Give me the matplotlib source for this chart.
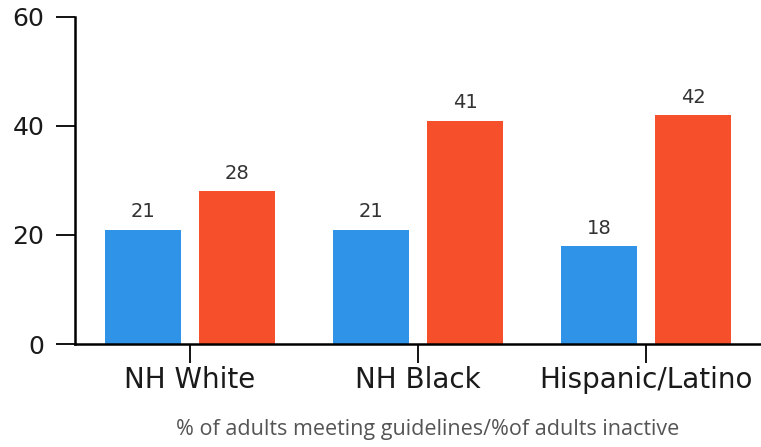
import matplotlib
matplotlib.use("Agg")
import matplotlib.pyplot as plt
import numpy as np

categories = ["NH White", "NH Black", "Hispanic/Latino"]
meeting = [21, 21, 18]
inactive = [28, 41, 42]
yticks = [0, 20, 40, 60]
xlabel = "% of adults meeting guidelines/%of adults inactive"

W, H = 761, 447
fig = plt.figure(figsize=(W/100, H/100), dpi=100)
ax = fig.add_axes([75/W, (H-344)/H, (760-75)/W, (344-17)/H])

x = np.arange(len(categories))
bw = 0.333
off = 0.206
b1 = ax.bar(x - off, meeting, bw, color="#2F93E8")
b2 = ax.bar(x + off, inactive, bw, color="#F64F2B")
for bars in (b1, b2):
    for r in bars:
        ax.annotate(f"{r.get_height():g}", (r.get_x() + r.get_width()/2, r.get_height()),
                    xytext=(0, 6), textcoords="offset points", ha="center", va="bottom",
                    fontsize=14, color="#333333", family="DejaVu Sans")

ax.set_xlim(-0.505, 2.5)
ax.set_ylim(0, 60)
ax.set_yticks(yticks)
ax.set_xticks(x)
ax.set_xticklabels(categories, fontsize=20, family="DejaVu Sans", color="#1a1a1a")
for lab in ax.get_yticklabels():
    lab.set_fontsize(18); lab.set_family("DejaVu Sans"); lab.set_color("#1a1a1a")
ax.tick_params(axis="y", length=14, width=1.3, pad=8)
ax.tick_params(axis="x", length=14, width=1.3, pad=2)
for s in ("top", "right"):
    ax.spines[s].set_visible(False)
for s in ("left", "bottom"):
    ax.spines[s].set_linewidth(1.8)
    ax.spines[s].set_color("black")
fig.text(428/W, 1 - 430/H, xlabel, ha="center", va="center", fontsize=15.5,
         color="#555555", family="Open Sans")
fig.savefig("out.png", dpi=100)
